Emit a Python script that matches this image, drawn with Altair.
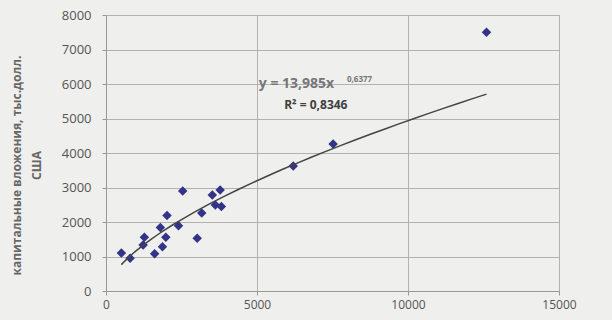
import altair as alt
import pandas as pd

# --- data ---
x_vals = [510, 800, 1230, 1270, 1610, 1870, 1980, 1800, 2020, 2400, 2540,
          3020, 3170, 3520, 3780, 3620, 3820, 6200, 7520, 12600]
y_vals = [1100, 950, 1330, 1560, 1080, 1280, 1560, 1840, 2190, 1890, 2900,
          1530, 2260, 2780, 2930, 2490, 2450, 3620, 4260, 7500]
x_ticks = [0, 5000, 10000, 15000]
y_ticks = [0, 1000, 2000, 3000, 4000, 5000, 6000, 7000, 8000]
y_title = ["капитальные вложения, тыс.долл.", "США"]
eq_main = "y = 13,985x"
eq_exp = "0,6377"
r2_text = "R² = 0,8346"

df = pd.DataFrame({"x": x_vals, "y": y_vals})

BG = "#efefed"
GRID = "#b2b2b2"
FONT = "Open Sans"

x_scale = alt.Scale(domain=[0, 15000], nice=False, zero=True)
y_scale = alt.Scale(domain=[0, 8000], nice=False)

x_axis = alt.Axis(
    values=x_ticks, title="", grid=True, gridColor=GRID, gridWidth=1,
    domainColor="#999999", tickColor="#999999", tickSize=4, format="d",
    labelFont=FONT, labelFontSize=12, labelColor="#555555",
    labelPadding=4, labelFlush=False,
)
y_axis = alt.Axis(
    values=y_ticks, title=y_title, grid=True, gridColor=GRID, gridWidth=1,
    domainColor="#999999", tickColor="#999999", tickSize=4, format="d",
    labelFont=FONT, labelFontSize=13, labelColor="#555555",
    labelPadding=11, labelOverlap=False,
    titleFont=FONT, titleFontSize=12, titleFontWeight="bold",
    titleColor="#666666", titleAngle=270, titleBaseline="top",
    titleAlign="center", titleX=-95, titleY=150, titleLineHeight=20,
)

x_enc = alt.X("x:Q", scale=x_scale, axis=x_axis)
y_enc = alt.Y("y:Q", scale=y_scale, axis=y_axis)


def xd(v):
    return alt.XDatum(v, type="quantitative", scale=x_scale, axis=x_axis)


def yd(v):
    return alt.YDatum(v, type="quantitative", scale=y_scale, axis=y_axis)


base = alt.Chart(df)

points = base.mark_point(
    shape="diamond", filled=True, size=90, color="#333388", opacity=1
).encode(x=x_enc, y=y_enc)

trend = base.transform_regression(
    "x", "y", method="pow"
).mark_line(color="#444444", strokeWidth=1.5).encode(x=x_enc, y=y_enc)

eq1 = alt.Chart(pd.DataFrame({"t": [eq_main]})).mark_text(
    align="left", baseline="middle", font=FONT, fontSize=14,
    fontWeight="bold", color="#777777"
).encode(x=xd(5060), y=yd(6000), text="t:N")

eq2 = alt.Chart(pd.DataFrame({"t": [eq_exp]})).mark_text(
    align="left", baseline="middle", font=FONT, fontSize=8,
    fontWeight="bold", color="#777777", dy=-4
).encode(x=xd(7980), y=yd(6000), text="t:N")

r2 = alt.Chart(pd.DataFrame({"t": [r2_text]})).mark_text(
    align="left", baseline="middle", font=FONT, fontSize=12,
    fontWeight="bold", color="#404040"
).encode(x=xd(5900), y=yd(5390), text="t:N")

chart = alt.layer(points, trend, eq1, eq2, r2).properties(
    width=453, height=276,
    padding={"left": 106, "top": 15, "right": 53, "bottom": 29},
    autosize=alt.AutoSizeParams(type="none"),
    background=BG,
).configure_view(stroke=GRID, fill=BG)

chart.save("out.html", embed_options={"renderer": "svg", "actions": False})
